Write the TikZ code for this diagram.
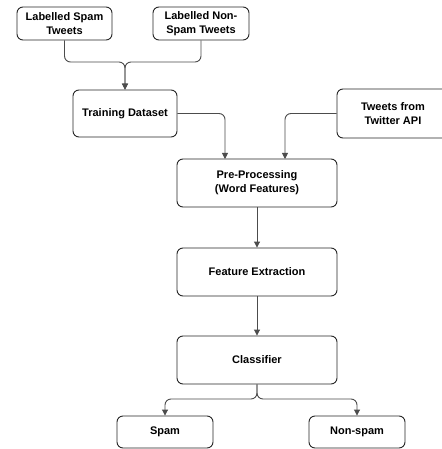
\documentclass[tikz,border=0pt]{standalone}
\usepackage{fontspec}
\setmainfont{Liberation Sans}
\usetikzlibrary{arrows.meta}
\begin{document}
\begin{tikzpicture}[x=1pt,y=-1pt,
  box/.style={draw=black!85, line width=0.9pt, rounded corners=6pt, fill=white,
    inner sep=0pt, align=center, font=\fontsize{11}{14}\selectfont\bfseries},
  conn/.style={draw=black!70, line width=0.9pt, rounded corners=6pt,
    -{Triangle[length=6pt,width=6pt]}}]
\useasboundingbox (0,0) rectangle (441,449);
\fill[white] (0,0) rectangle (441,449);

\node[box, minimum width=95pt, minimum height=33pt] (ls) at (64.5,23.5) {Labelled Spam\\Tweets};
\node[box, minimum width=96pt, minimum height=33pt] (ln) at (201,23.5) {Labelled Non-\\Spam Tweets};
\node[box, minimum width=104pt, minimum height=47pt] (td) at (125,113.5) {Training Dataset};
\node[box, minimum width=112pt, minimum height=49pt] (tw) at (393,113.5) {Tweets from\\Twitter API};
\node[box, minimum width=160pt, minimum height=48pt] (pp) at (257,183) {Pre-Processing\\(Word Features)};
\node[box, minimum width=160pt, minimum height=48pt] (fe) at (257,272) {Feature Extraction};
\node[box, minimum width=160pt, minimum height=48pt] (cl) at (257,360) {Classifier};
\node[box, minimum width=96pt, minimum height=32pt] (sp) at (165,432) {Spam};
\node[box, minimum width=96pt, minimum height=32pt] (ns) at (357,432) {Non-spam};

\coordinate (j1) at (125,62);
\coordinate (p1) at (225,159);
\coordinate (p2) at (285,159);
\coordinate (j2) at (257,399);

\draw[conn] (ls.south) |- (j1) -- (td.north);
\draw[conn] (ln.south) |- (j1) -- (td.north);
\draw[conn] (td.east) -| (p1);
\draw[conn] (tw.west) -| (p2);
\draw[conn] (pp.south) -- (fe.north);
\draw[conn] (fe.south) -- (cl.north);
\draw[conn] (cl.south) -- (j2) -| (sp.north);
\draw[conn] (cl.south) -- (j2) -| (ns.north);
\end{tikzpicture}
\end{document}
